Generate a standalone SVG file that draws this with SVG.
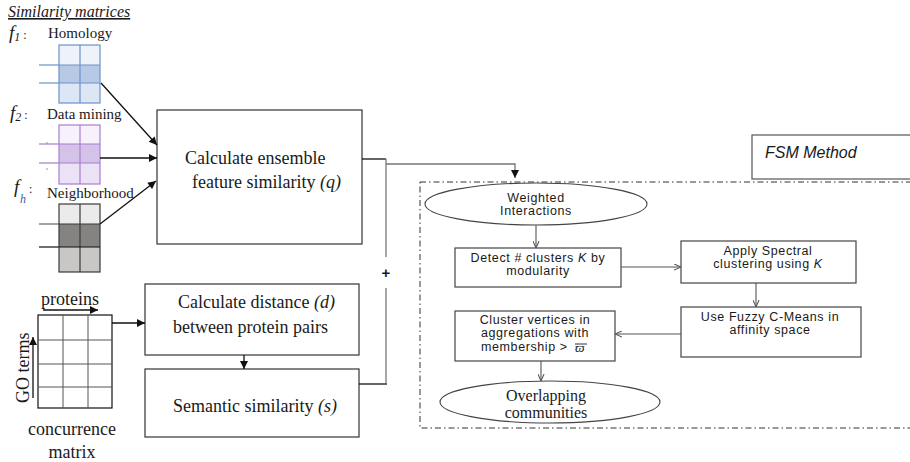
<svg xmlns="http://www.w3.org/2000/svg" width="910" height="462" viewBox="0 0 910 462">
  <style>
    .serif { font-family: "Liberation Serif", "Times New Roman", serif; fill: #1a1a1a; }
    .sans { font-family: "Liberation Sans", Arial, sans-serif; fill: #1a1a1a; }
    .fs { font-family: "Liberation Sans", Arial, sans-serif; fill: #1a1a1a; font-size: 12.5px; letter-spacing: 0.6px; }
    .box { fill: #ffffff; stroke: #333333; stroke-width: 1.2; }
    .fbox { fill: #ffffff; stroke: #444444; stroke-width: 1.2; }
    .blk { stroke: #111111; stroke-width: 1.3; fill: none; }
    .gry { stroke: #777777; stroke-width: 1.3; fill: none; }
    .thin { stroke: #555555; stroke-width: 1.1; fill: none; }
  </style>
  <defs>
    <marker id="arrowFill" viewBox="0 0 10 10" refX="10" refY="5" markerWidth="9" markerHeight="8" markerUnits="userSpaceOnUse" orient="auto">
      <path d="M0,0 L10,5 L0,10 z" fill="#111111"/>
    </marker>
    <marker id="arrowOpen" viewBox="0 0 8 8" refX="8" refY="4" markerWidth="7" markerHeight="7" markerUnits="userSpaceOnUse" orient="auto">
      <path d="M0,0.5 L8,4 L0,7.5" fill="none" stroke="#555555" stroke-width="1.2"/>
    </marker>
  </defs>

  <rect width="910" height="462" fill="#ffffff"/>

  <!-- similarity matrices heading -->
  <text class="serif" x="8" y="17" font-size="16" font-style="italic" text-decoration="underline">Similarity matrices</text>

  <!-- f1: homology matrix -->
  <g id="matrix-homology">
    <text class="serif" x="9" y="39" font-size="19" font-style="italic">f<tspan font-size="12" dy="2">1</tspan><tspan font-size="12" dy="-2" font-style="normal"> :</tspan></text>
    <text class="serif" x="48" y="38" font-size="15">Homology</text>
    <line x1="39" y1="65" x2="59" y2="65" stroke="#6a93cc" stroke-width="1.2"/>
    <line x1="39" y1="83" x2="59" y2="83" stroke="#6a93cc" stroke-width="1.2"/>
    <rect x="59" y="45" width="41" height="20" fill="#eef2fa"/>
    <rect x="59" y="65" width="41" height="18" fill="#b8c9e5"/>
    <rect x="59" y="83" width="41" height="20" fill="#dde6f4"/>
    <rect x="59" y="45" width="41" height="58" fill="none" stroke="#6a93cc" stroke-width="1.2"/>
    <line x1="80" y1="45" x2="80" y2="103" stroke="#6a93cc" stroke-width="1.2"/>
    <line x1="59" y1="65" x2="100" y2="65" stroke="#6a93cc" stroke-width="1.2"/>
    <line x1="59" y1="83" x2="100" y2="83" stroke="#6a93cc" stroke-width="1.2"/>
  </g>

  <!-- f2: data mining matrix -->
  <g id="matrix-datamining">
    <text class="serif" x="10" y="119" font-size="19" font-style="italic">f<tspan font-size="12" dy="2">2</tspan><tspan font-size="12" dy="-2" font-style="normal"> :</tspan></text>
    <text class="serif" x="47" y="119" font-size="15">Data mining</text>
    <circle cx="47" cy="143" r="0.8" fill="#888888"/>
    <circle cx="47" cy="169" r="0.8" fill="#888888"/>
    <line x1="39" y1="144" x2="59" y2="144" stroke="#a67fd0" stroke-width="1.2"/>
    <line x1="39" y1="163" x2="59" y2="163" stroke="#a67fd0" stroke-width="1.2"/>
    <rect x="59" y="125" width="41" height="19" fill="#f6f1fb"/>
    <rect x="59" y="144" width="41" height="19" fill="#d5c2e8"/>
    <rect x="59" y="163" width="41" height="21" fill="#ece2f5"/>
    <rect x="59" y="125" width="41" height="59" fill="none" stroke="#a67fd0" stroke-width="1.2"/>
    <line x1="80" y1="125" x2="80" y2="184" stroke="#a67fd0" stroke-width="1.2"/>
    <line x1="59" y1="144" x2="100" y2="144" stroke="#a67fd0" stroke-width="1.2"/>
    <line x1="59" y1="163" x2="100" y2="163" stroke="#a67fd0" stroke-width="1.2"/>
  </g>

  <!-- fh: neighborhood matrix -->
  <g id="matrix-neighborhood">
    <text class="serif" x="14" y="193" font-size="19" font-style="italic">f</text>
    <text x="20" y="203" font-size="12" font-style="italic" font-family="Liberation Serif, serif" fill="#3b5ba5">h</text>
    <text class="serif" x="29" y="193" font-size="12">:</text>
    <text class="serif" x="47" y="198" font-size="15">Neighborhood</text>
    <line x1="39" y1="224" x2="59" y2="224" stroke="#666666" stroke-width="1.2"/>
    <line x1="39" y1="247" x2="59" y2="247" stroke="#111111" stroke-width="1.2"/>
    <rect x="59" y="204" width="41" height="20" fill="#ebebeb"/>
    <rect x="59" y="224" width="41" height="23" fill="#858282"/>
    <rect x="59" y="247" width="41" height="25" fill="#c9c6c6"/>
    <rect x="59" y="204" width="41" height="68" fill="none" stroke="#3a3a3a" stroke-width="1.2"/>
    <line x1="80" y1="204" x2="80" y2="272" stroke="#3a3a3a" stroke-width="1.2"/>
    <line x1="59" y1="224" x2="100" y2="224" stroke="#3a3a3a" stroke-width="1.2"/>
    <line x1="59" y1="247" x2="100" y2="247" stroke="#111111" stroke-width="1.2"/>
  </g>

  <!-- GO term concurrence matrix -->
  <g id="matrix-concurrence">
    <text class="serif" x="41" y="305" font-size="18">proteins</text>
    <text class="serif" transform="translate(29,403) rotate(-90)" font-size="18">GO terms</text>
    <rect x="38" y="315" width="74" height="93" fill="#ffffff" stroke="#111111" stroke-width="1.2"/>
    <line x1="63" y1="315" x2="63" y2="408" stroke="#555555" stroke-width="1"/>
    <line x1="88" y1="315" x2="88" y2="408" stroke="#555555" stroke-width="1"/>
    <line x1="38" y1="340" x2="112" y2="340" stroke="#555555" stroke-width="1"/>
    <line x1="38" y1="364" x2="112" y2="364" stroke="#555555" stroke-width="1"/>
    <line x1="38" y1="387" x2="112" y2="387" stroke="#555555" stroke-width="1"/>
    <text class="serif" x="72" y="435" font-size="18" text-anchor="middle">concurrence</text>
    <text class="serif" x="72" y="458" font-size="18" text-anchor="middle">matrix</text>
  </g>

  <!-- processing boxes -->
  <g id="node-ensemble">
    <rect class="box" x="157" y="110" width="205" height="134"/>
    <text class="serif" x="185" y="164" font-size="18">Calculate ensemble</text>
    <text class="serif" x="192" y="188" font-size="18">feature similarity <tspan font-style="italic">(q)</tspan></text>
  </g>

  <g id="node-distance">
    <rect class="box" x="145" y="284" width="214" height="71"/>
    <text class="serif" x="178" y="308" font-size="18">Calculate distance <tspan font-style="italic">(d)</tspan></text>
    <text class="serif" x="173" y="333" font-size="18">between protein pairs</text>
  </g>

  <g id="node-semantic">
    <rect class="box" x="145" y="369" width="214" height="68"/>
    <text class="serif" x="173" y="412" font-size="18">Semantic  similarity <tspan font-style="italic">(s)</tspan></text>
  </g>

  <!-- FSM method region -->
  <g id="fsm-frame">
    <rect x="420" y="182" width="495" height="246" fill="none" stroke="#333333" stroke-width="1" stroke-dasharray="6 3 1.5 3"/>
  </g>

  <g id="node-fsm-label">
    <rect x="752" y="135" width="165" height="44" fill="#ffffff" stroke="#555555" stroke-width="1.2"/>
    <text class="sans" x="765" y="158" font-size="16" font-style="italic">FSM Method</text>
  </g>

  <g id="node-weighted">
    <ellipse cx="536" cy="204" rx="111" ry="21" fill="#ffffff" stroke="#444444" stroke-width="1.1"/>
    <text class="fs" x="536" y="202" text-anchor="middle">Weighted</text>
    <text class="fs" x="536" y="215" text-anchor="middle">Interactions</text>
  </g>

  <g id="node-detect">
    <rect class="fbox" x="455" y="248" width="166" height="39"/>
    <text class="fs" x="538" y="262" text-anchor="middle">Detect # clusters <tspan font-style="italic">K</tspan>  by</text>
    <text class="fs" x="538" y="275" text-anchor="middle">modularity</text>
  </g>

  <g id="node-spectral">
    <rect class="fbox" x="681" y="241" width="175" height="42"/>
    <text class="fs" x="768" y="255" text-anchor="middle">Apply Spectral</text>
    <text class="fs" x="768" y="268" text-anchor="middle">clustering using <tspan font-style="italic">K</tspan></text>
  </g>

  <g id="node-fuzzy">
    <rect class="fbox" x="681" y="307" width="180" height="50"/>
    <text class="fs" x="770" y="321" text-anchor="middle">Use Fuzzy C-Means in</text>
    <text class="fs" x="770" y="334" text-anchor="middle">affinity space</text>
  </g>

  <g id="node-cluster">
    <rect class="fbox" x="455" y="311" width="160" height="50"/>
    <text class="fs" x="535" y="324" text-anchor="middle">Cluster vertices in</text>
    <text class="fs" x="535" y="337" text-anchor="middle">aggregations with</text>
    <text class="fs" x="481" y="351">membership &gt;</text>
    <text class="serif" x="575" y="352" font-size="13.5" font-style="italic">ϖ</text>
    <line x1="575" y1="344" x2="587" y2="344" stroke="#1a1a1a" stroke-width="0.9"/>
  </g>

  <g id="node-overlapping">
    <ellipse cx="550" cy="402" rx="110" ry="21" fill="#ffffff" stroke="#444444" stroke-width="1.1"/>
    <text class="serif" x="546" y="401" font-size="16" text-anchor="middle">Overlapping</text>
    <text class="serif" x="546" y="418" font-size="16" text-anchor="middle">communities</text>
  </g>

  <!-- connectors -->
  <g id="connectors">
    <line class="blk" x1="101" y1="83" x2="157" y2="145" marker-end="url(#arrowFill)"/>
    <line class="blk" x1="100" y1="158" x2="157" y2="158" marker-end="url(#arrowFill)"/>
    <line class="blk" x1="100" y1="224" x2="156" y2="181" marker-end="url(#arrowFill)"/>
    <line class="blk" x1="43" y1="310" x2="98" y2="310" marker-end="url(#arrowFill)"/>
    <line class="blk" x1="33" y1="398" x2="33" y2="337" marker-end="url(#arrowFill)"/>
    <line class="blk" x1="112" y1="323" x2="145" y2="323" marker-end="url(#arrowFill)"/>
    <line class="blk" x1="244" y1="355" x2="244" y2="369" marker-end="url(#arrowFill)"/>

    <!-- merge of q and s into the FSM input -->
    <polyline class="blk" points="362,159 386,159"/>
    <line class="gry" x1="386" y1="159" x2="386" y2="257"/>
    <text class="sans" x="386" y="278" font-size="15" font-weight="bold" text-anchor="middle">+</text>
    <polyline class="gry" points="386,288 386,383"/>
    <line class="blk" x1="359" y1="384" x2="387" y2="384"/>
    <polyline class="gry" points="386,164 515,164 515,178" marker-end="url(#arrowFill)"/>

    <!-- FSM flow -->
    <line class="thin" x1="536" y1="225" x2="536" y2="248" marker-end="url(#arrowOpen)"/>
    <line class="thin" x1="621" y1="267" x2="681" y2="267" marker-end="url(#arrowOpen)"/>
    <line class="thin" x1="756" y1="283" x2="756" y2="307" marker-end="url(#arrowOpen)"/>
    <line class="thin" x1="681" y1="334" x2="615" y2="334" marker-end="url(#arrowOpen)"/>
    <line class="thin" x1="541" y1="361" x2="541" y2="381" marker-end="url(#arrowOpen)"/>
  </g>
</svg>
